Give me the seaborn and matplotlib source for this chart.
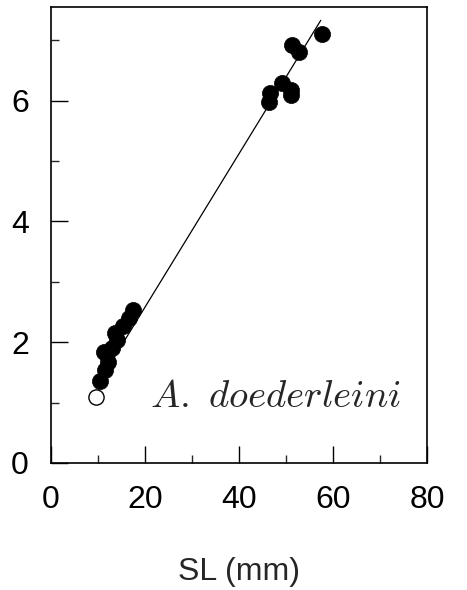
import numpy as np
import pandas as pd
import matplotlib
matplotlib.use("Agg")
import matplotlib.pyplot as plt
import seaborn as sns

# Data
sl_filled = [10.4, 11.5, 12.2, 11.2, 12.9, 14.0, 13.6, 15.4, 16.5, 17.5,
             46.3, 46.7, 49.2, 51.0, 51.0, 51.3, 52.7, 57.7]
y_filled = [1.35, 1.54, 1.68, 1.84, 1.90, 2.04, 2.15, 2.26, 2.40, 2.53,
            5.98, 6.12, 6.29, 6.18, 6.09, 6.92, 6.81, 7.11]
sl_open = [9.5]
y_open = [1.09]
fit_intercept = 0.04
fit_slope = 0.127
fit_x = [11.0, 57.4]
species_label = r"$A.\ doederleini$"
x_ticks = [0, 20, 40, 60, 80]
y_ticks = [0, 2, 4, 6]

sns.set_style("ticks")
plt.rcParams["font.family"] = ["Liberation Sans", "DejaVu Sans"]
plt.rcParams["mathtext.fontset"] = "cm"

fig = plt.figure(figsize=(4.67, 5.90), dpi=100)
ax = fig.add_axes([0.1092, 0.2153, 0.8051, 0.7728])

df_f = pd.DataFrame({"SL": sl_filled, "y": y_filled})
df_o = pd.DataFrame({"SL": sl_open, "y": y_open})
df_l = pd.DataFrame({"SL": fit_x,
                     "y": [fit_intercept + fit_slope * v for v in fit_x]})

sns.lineplot(data=df_l, x="SL", y="y", ax=ax, color="black", lw=0.9, zorder=2)
sns.scatterplot(data=df_f, x="SL", y="y", ax=ax, color="black", s=135,
                edgecolor="black", linewidth=0.5, zorder=3)
sns.scatterplot(data=df_o, x="SL", y="y", ax=ax, facecolor="white", s=120,
                edgecolor="black", linewidth=1.0, zorder=3)

ax.set_xlim(0, 80)
ax.set_ylim(0, 7.55)
ax.set_xticks(x_ticks)
ax.set_yticks(y_ticks)
ax.set_xticks([10, 30, 50, 70], minor=True)
ax.set_yticks([1, 3, 5, 7], minor=True)
ax.tick_params(which="major", direction="in", length=12, width=1.0,
               labelsize=23, pad=16, colors="black")
ax.tick_params(which="minor", direction="in", length=6, width=1.0)
for s in ax.spines.values():
    s.set_linewidth(1.2)
    s.set_color("black")
    s.set_visible(True)

ax.set_xlabel("SL (mm)", fontsize=23, labelpad=30)
ax.set_ylabel("")

ax.text(21.1, 0.93, species_label, fontsize=28, ha="left", va="baseline")

fig.savefig("out.png", dpi=100)
